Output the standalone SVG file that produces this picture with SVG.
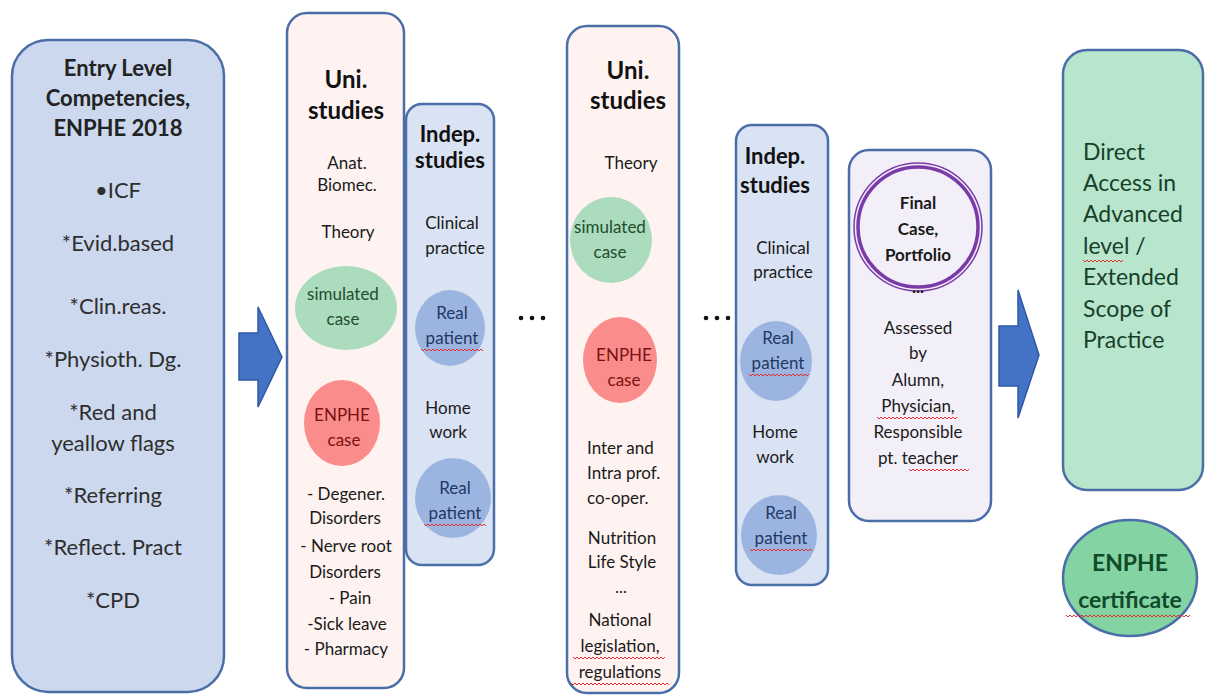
<svg xmlns="http://www.w3.org/2000/svg" width="1207" height="696" viewBox="0 0 1207 696">
<style>
text{font-family:Lato,"Open Sans","Liberation Sans",sans-serif;text-anchor:middle}
.box{stroke:#4a6ea8;stroke-width:2.5}
.blue{fill:#ccd8ee}
.pink{fill:#fff3f1}
.ind{fill:#dae3f3}
.lav{fill:#f2eff8}
.grn{fill:#b7e6cd}
.t22{font-size:22px;fill:#2e2e2e}
.b22{font-size:22px;font-weight:bold;fill:#222}
.b24{font-size:24px;font-weight:bold;fill:#111}
.b21{font-size:22px;font-weight:bold;fill:#111}
.t17{font-size:17px;fill:#1a1a1a}
.gc{fill:#abdcbd}
.rc{fill:#fb8c8c}
.bc{fill:#9cb5e0}
.gt{font-size:17px;fill:#1f4d2e}
.rt{font-size:17px;fill:#7a1212}
.bt{font-size:17px;fill:#1f3864}
.dt{font-size:23px;fill:#17402a;text-anchor:start}
.arrow{fill:#4472c4;stroke:#2f58a6;stroke-width:1.5}
.sq{fill:none;stroke:#e03030;stroke-width:1}
</style>

<g id="connectors">
<path class="arrow" d="M239,333 H258 V307 L282,357 L258,407 V380 H239 Z"/>
<path class="arrow" d="M999,326 H1018 V290 L1039,355 L1018,418 V386 H999 Z"/>
<g fill="#111"><circle cx="521" cy="318" r="2.3"/><circle cx="532" cy="318" r="2.3"/><circle cx="543" cy="318" r="2.3"/>
<circle cx="706" cy="318" r="2.3"/><circle cx="717" cy="318" r="2.3"/><circle cx="728" cy="318" r="2.3"/></g>
</g>

<g id="entry">
<rect class="box blue" x="12" y="40" width="212" height="652" rx="36"/>
<text class="b22" x="118" y="76">Entry Level</text>
<text class="b22" x="118" y="106">Competencies,</text>
<text class="b22" x="118" y="136">ENPHE 2018</text>
<text class="t22" x="118" y="198">•ICF</text>
<text class="t22" x="118" y="251">*Evid.based</text>
<text class="t22" x="118" y="314">*Clin.reas.</text>
<text class="t22" x="113" y="367">*Physioth. Dg.</text>
<text class="t22" x="113" y="420">*Red and</text>
<text class="t22" x="113" y="451">yeallow flags</text>
<text class="t22" x="113" y="503">*Referring</text>
<text class="t22" x="113" y="555">*Reflect. Pract</text>
<text class="t22" x="113" y="608">*CPD</text>
</g>

<g id="uni1">
<rect class="box pink" x="287" y="13" width="117" height="675" rx="20"/>
<text class="b24" x="346" y="88">Uni.</text>
<text class="b24" x="346" y="119">studies</text>
<text class="t17" x="347" y="169">Anat.</text>
<text class="t17" x="347" y="191">Biomec.</text>
<text class="t17" x="348" y="238">Theory</text>
<ellipse class="gc" cx="346" cy="308" rx="51" ry="42"/>
<text class="gt" x="343" y="300">simulated</text>
<text class="gt" x="343" y="325">case</text>
<ellipse class="rc" cx="342" cy="423" rx="38" ry="43"/>
<text class="rt" x="342" y="421">ENPHE</text>
<text class="rt" x="344" y="446">case</text>
<text class="t17" x="346" y="500">- Degener.</text>
<text class="t17" x="345" y="524">Disorders</text>
<text class="t17" x="346" y="552">- Nerve root</text>
<text class="t17" x="345" y="578">Disorders</text>
<text class="t17" x="350" y="604">- Pain</text>
<text class="t17" x="347" y="630">-Sick leave</text>
<text class="t17" x="346" y="655">- Pharmacy</text>
</g>

<g id="indep1">
<rect class="box ind" x="406" y="104" width="88" height="461" rx="16"/>
<text class="b21" x="450" y="142">Indep.</text>
<text class="b21" x="450" y="168">studies</text>
<text class="t17" x="452" y="229">Clinical</text>
<text class="t17" x="455" y="254">practice</text>
<ellipse class="bc" cx="450" cy="328" rx="35" ry="38"/>
<text class="bt" x="452" y="319">Real</text>
<text class="bt" x="452" y="344">patient</text>
<text class="t17" x="448" y="414">Home</text>
<text class="t17" x="448" y="438">work</text>
<ellipse class="bc" cx="453" cy="498" rx="38" ry="40"/>
<text class="bt" x="455" y="494">Real</text>
<text class="bt" x="455" y="519">patient</text>
</g>

<g id="uni2">
<rect class="box pink" x="567" y="26" width="112" height="667" rx="20"/>
<text class="b24" x="628" y="79">Uni.</text>
<text class="b24" x="628" y="109">studies</text>
<text class="t17" x="631" y="169">Theory</text>
<ellipse class="gc" cx="611" cy="240" rx="41" ry="43"/>
<text class="gt" x="610" y="233">simulated</text>
<text class="gt" x="610" y="258">case</text>
<ellipse class="rc" cx="620" cy="360" rx="37" ry="43"/>
<text class="rt" x="624" y="361">ENPHE</text>
<text class="rt" x="624" y="386">case</text>
<text class="t17" x="587" y="454" style="text-anchor:start">Inter and</text>
<text class="t17" x="587" y="479" style="text-anchor:start">Intra prof.</text>
<text class="t17" x="587" y="504" style="text-anchor:start">co-oper.</text>
<text class="t17" x="622" y="544">Nutrition</text>
<text class="t17" x="622" y="568">Life Style</text>
<text class="t17" x="621" y="593">...</text>
<text class="t17" x="620" y="626">National</text>
<text class="t17" x="620" y="652">legislation,</text>
<text class="t17" x="620" y="678">regulations</text>
</g>

<g id="indep2">
<rect class="box ind" x="736" y="125" width="92" height="460" rx="16"/>
<text class="b21" x="775" y="164">Indep.</text>
<text class="b21" x="775" y="193">studies</text>
<text class="t17" x="783" y="254">Clinical</text>
<text class="t17" x="783" y="278">practice</text>
<ellipse class="bc" cx="776" cy="361" rx="36" ry="40"/>
<text class="bt" x="778" y="344">Real</text>
<text class="bt" x="778" y="369">patient</text>
<text class="t17" x="775" y="438">Home</text>
<text class="t17" x="775" y="463">work</text>
<ellipse class="bc" cx="779" cy="535" rx="38" ry="40"/>
<text class="bt" x="781" y="519">Real</text>
<text class="bt" x="781" y="544">patient</text>
</g>

<g id="final">
<rect class="box lav" x="849" y="150" width="142" height="371" rx="20"/>
<circle cx="918" cy="227" r="64" fill="none" stroke="#7a3ba8" stroke-width="1.5"/>
<circle cx="918" cy="227" r="60" fill="none" stroke="#7a3ba8" stroke-width="3.5"/>
<text class="t17" x="918" y="209" style="font-weight:bold">Final</text>
<text class="t17" x="918" y="235" style="font-weight:bold">Case,</text>
<text class="t17" x="918" y="261" style="font-weight:bold">Portfolio</text>
<text class="t17" x="918" y="293" style="font-weight:bold">...</text>
<text class="t17" x="918" y="334">Assessed</text>
<text class="t17" x="918" y="359">by</text>
<text class="t17" x="918" y="386">Alumn,</text>
<text class="t17" x="918" y="412">Physician,</text>
<text class="t17" x="918" y="438">Responsible</text>
<text class="t17" x="918" y="464">pt. teacher</text>
</g>

<g id="direct">
<rect class="box grn" x="1063" y="50" width="140" height="440" rx="24"/>
<text class="dt" x="1083" y="160">Direct</text>
<text class="dt" x="1083" y="191">Access in</text>
<text class="dt" x="1083" y="222">Advanced</text>
<text class="dt" x="1083" y="254">level /</text>
<text class="dt" x="1083" y="285">Extended</text>
<text class="dt" x="1083" y="317">Scope of</text>
<text class="dt" x="1083" y="348">Practice</text>
</g>

<g id="certificate">
<ellipse class="box" cx="1130" cy="578" rx="67" ry="58" fill="#84d4a3"/>
<text x="1130" y="571" style="font-size:23px;font-weight:bold;fill:#0f4a2a">ENPHE</text>
<text x="1130" y="608" style="font-size:23px;font-weight:bold;fill:#0f4a2a">certificate</text>
</g>

<g id="spellcheck" class="sq">
<polyline points="421,349 423,351 425,349 427,351 429,349 431,351 433,349 435,351 437,349 439,351 441,349 443,351 445,349 447,351 449,349 451,351 453,349 455,351 457,349 459,351 461,349 463,351 465,349 467,351 469,349 471,351 473,349 475,351 477,349 479,351 481,349 483,351"/>
<polyline points="424,524 426,526 428,524 430,526 432,524 434,526 436,524 438,526 440,524 442,526 444,524 446,526 448,524 450,526 452,524 454,526 456,524 458,526 460,524 462,526 464,524 466,526 468,524 470,526 472,524 474,526 476,524 478,526 480,524 482,526 484,524 486,526"/>
<polyline points="749,374 751,376 753,374 755,376 757,374 759,376 761,374 763,376 765,374 767,376 769,374 771,376 773,374 775,376 777,374 779,376 781,374 783,376 785,374 787,376 789,374 791,376 793,374 795,376 797,374 799,376 801,374 803,376 805,374 807,376 809,374"/>
<polyline points="750,549 752,551 754,549 756,551 758,549 760,551 762,549 764,551 766,549 768,551 770,549 772,551 774,549 776,551 778,549 780,551 782,549 784,551 786,549 788,551 790,549 792,551 794,549 796,551 798,549 800,551 802,549 804,551 806,549 808,551 810,549 812,551"/>
<polyline points="573,657 575,659 577,657 579,659 581,657 583,659 585,657 587,659 589,657 591,659 593,657 595,659 597,657 599,659 601,657 603,659 605,657 607,659 609,657 611,659 613,657 615,659 617,657 619,659 621,657 623,659 625,657 627,659 629,657 631,659 633,657 635,659 637,657 639,659 641,657 643,659 645,657 647,659 649,657 651,659 653,657 655,659 657,657 659,659 661,657 663,659 665,657"/>
<polyline points="571,683 573,685 575,683 577,685 579,683 581,685 583,683 585,685 587,683 589,685 591,683 593,685 595,683 597,685 599,683 601,685 603,683 605,685 607,683 609,685 611,683 613,685 615,683 617,685 619,683 621,685 623,683 625,685 627,683 629,685 631,683 633,685 635,683 637,685 639,683 641,685 643,683 645,685 647,683 649,685 651,683 653,685 655,683 657,685 659,683 661,685 663,683 665,685 667,683 669,685"/>
<polyline points="877,417 879,419 881,417 883,419 885,417 887,419 889,417 891,419 893,417 895,419 897,417 899,419 901,417 903,419 905,417 907,419 909,417 911,419 913,417 915,419 917,417 919,419 921,417 923,419 925,417 927,419 929,417 931,419 933,417 935,419 937,417 939,419 941,417 943,419 945,417 947,419 949,417 951,419 953,417 955,419 957,417"/>
<polyline points="909,469 911,471 913,469 915,471 917,469 919,471 921,469 923,471 925,469 927,471 929,469 931,471 933,469 935,471 937,469 939,471 941,469 943,471 945,469 947,471 949,469 951,471 953,469 955,471 957,469 959,471 961,469 963,471 965,469 967,471 969,469"/>
<polyline points="1083,260 1085,262 1087,260 1089,262 1091,260 1093,262 1095,260 1097,262 1099,260 1101,262 1103,260 1105,262 1107,260 1109,262 1111,260 1113,262 1115,260 1117,262 1119,260 1121,262 1123,260"/>
<polyline points="1066,615 1068,617 1070,615 1072,617 1074,615 1076,617 1078,615 1080,617 1082,615 1084,617 1086,615 1088,617 1090,615 1092,617 1094,615 1096,617 1098,615 1100,617 1102,615 1104,617 1106,615 1108,617 1110,615 1112,617 1114,615 1116,617 1118,615 1120,617 1122,615 1124,617 1126,615 1128,617 1130,615 1132,617 1134,615 1136,617 1138,615 1140,617 1142,615 1144,617 1146,615 1148,617 1150,615 1152,617 1154,615 1156,617 1158,615 1160,617 1162,615 1164,617 1166,615 1168,617 1170,615 1172,617 1174,615 1176,617 1178,615 1180,617 1182,615 1184,617 1186,615 1188,617 1190,615"/>
</g>
</svg>
